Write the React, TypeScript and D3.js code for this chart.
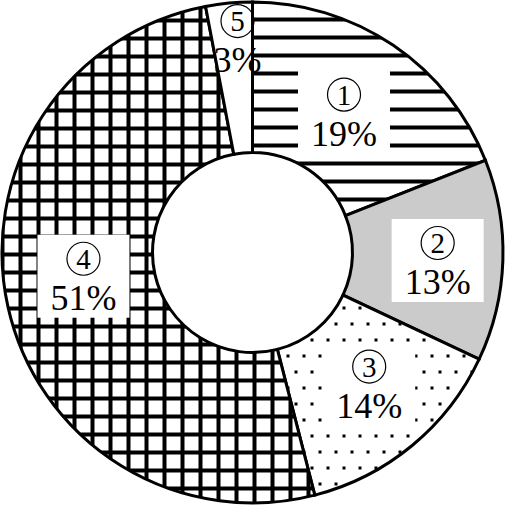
import React from 'react';
import * as d3 from 'd3';

const digits = ['1', '2', '3', '4', '5'];
const shares = [19, 13, 14, 51, 3];
const pctLabels = ['19%', '13%', '14%', '51%', '3%'];
const fills = ['url(#hlines)', '#cbcbcb', 'url(#dots)', 'url(#grid)', '#ffffff'];
// nudges from the arc centroid to where the labels sit
const nudges: [number, number][] = [[-7, 12], [10, 10], [5, 4], [2, -7], [1.5, -32]];
const boxed = [true, true, true, true, false];

const W = 507;
const cx = 252.5, cy = 252.5;
const rOuter = 250.5, rInner = 100;
const font = '"Liberation Serif", "Times New Roman", serif';

export default function App() {
  const pie = d3.pie<number>().sort(null).startAngle(0).endAngle(2 * Math.PI);
  const arcs = pie(shares);
  const arc = d3.arc<d3.PieArcDatum<number>>().innerRadius(rInner).outerRadius(rOuter);

  return (
    <div style={{ position: 'absolute', left: 0, top: 0 }}>
      <svg width={W} height={W} style={{ display: 'block', background: '#fff' }}>
        <defs>
          <pattern id="hlines" patternUnits="userSpaceOnUse" x={0} y={-1} width={18} height={18}>
            <rect width={18} height={18} fill="#fff" />
            <rect x={0} y={0} width={18} height={4} fill="#000" />
          </pattern>
          <pattern id="grid" patternUnits="userSpaceOnUse" x={0} y={0} width={18} height={18}>
            <rect width={18} height={18} fill="#fff" />
            <rect x={0} y={0} width={18} height={4} fill="#000" />
            <rect x={0} y={0} width={4} height={18} fill="#000" />
          </pattern>
          <pattern id="dots" patternUnits="userSpaceOnUse" x={2} y={6} width={16} height={32}>
            <rect width={16} height={32} fill="#fff" />
            <rect x={0} y={0} width={3} height={3} fill="#000" />
            <rect x={8} y={16} width={3} height={3} fill="#000" />
          </pattern>
        </defs>
        <g transform={`translate(${cx},${cy})`}>
          {arcs.map((a, i) => (
            <path key={i} d={arc(a) || ''} fill={fills[i]} stroke="#000" strokeWidth={3} strokeLinejoin="miter" />
          ))}
          {arcs.map((a, i) => {
            const [x0, y0] = arc.centroid(a);
            const x = x0 + nudges[i][0];
            const y = y0 + nudges[i][1];
            return (
              <g key={'l' + i} fontFamily={font} fill="#000">
                {boxed[i] && <rect x={x - 46} y={y - 49} width={92} height={83} fill="#fff" />}
                <circle cx={x} cy={y - 25} r={16.5} fill="none" stroke="#000" strokeWidth={1.2} />
                <text x={x} y={y - 25} dy="0.35em" textAnchor="middle" fontSize={29}>{digits[i]}</text>
                <text x={x} y={y + 26} textAnchor="middle" fontSize={36}>{pctLabels[i]}</text>
              </g>
            );
          })}
        </g>
      </svg>
    </div>
  );
}
